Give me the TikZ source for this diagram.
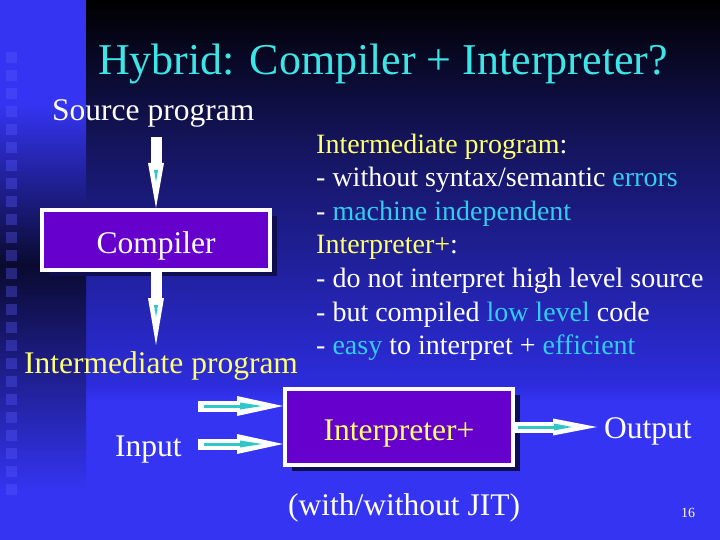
\documentclass[tikz,border=0pt]{standalone}
\usepackage{fontspec}
\setmainfont{Liberation Serif}
\usetikzlibrary{arrows.meta,shadows}
\definecolor{bgblue}{HTML}{3434F2}
\definecolor{dark1}{HTML}{14145A}
\definecolor{mid1}{HTML}{2C2CDC}
\definecolor{vdark}{HTML}{0A0A30}
\definecolor{boxpurple}{HTML}{6600CC}
\definecolor{shadowc}{HTML}{0E0E50}
\definecolor{ttlcyan}{HTML}{3CE6E6}
\definecolor{txtcyan}{HTML}{33CCEE}
\definecolor{txtyellow}{HTML}{FFFF70}
\definecolor{arrowcyan}{HTML}{33C6C6}
\definecolor{sqc}{HTML}{5A5AFF}
\begin{document}
\begin{tikzpicture}[x=1pt,y=-1pt,
  lbl/.style={inner sep=0pt, text=white, font=\fontsize{31.5}{36}\selectfont, anchor=base west},
  body/.style={inner sep=0pt, text=white, font=\fontsize{28}{33}\selectfont, anchor=base west},
  box/.style={draw=white, line width=4pt, fill=boxpurple, minimum width=228pt, inner sep=0pt,
    text height=28pt, text depth=2pt, font=\fontsize{31.5}{36}\selectfont,
    drop shadow={shadow xshift=7pt, shadow yshift=-6pt, fill=shadowc, opacity=1}},
  wshaft/.style={white, line width=11pt},
  cshaft/.style={arrowcyan, line width=3pt}
]
\useasboundingbox (0,0) rectangle (720,540);
% background
\fill[bgblue] (0,0) rectangle (720,540);
\shade[top color=black, bottom color=dark1] (86,0) rectangle (720,140);
\shade[top color=dark1, bottom color=mid1] (86,140) rectangle (720,385);
\shade[top color=mid1, bottom color=bgblue] (86,385) rectangle (720,400);
\shade[top color=bgblue, bottom color=vdark] (0,105) rectangle (86,265);
\shade[top color=vdark, bottom color=bgblue] (0,265) rectangle (86,490);
\foreach \i in {0,...,24} \fill[sqc, opacity=0.35] (6,{52+\i*18}) rectangle ++(11,11);

% title
\node[inner sep=0pt, anchor=base west, text=ttlcyan, font=\fontsize{44}{50}\selectfont] (title) at (98,75) {Hybrid: Compiler + Interpreter?};

% left column
\node[lbl] (src) at (52,121) {Source program};
\node[box, minimum height=60pt, text=white] (comp) at (156,240) {Compiler};
\node[lbl, text=txtyellow] (ip) at (24,373) {Intermediate program};
\node[lbl] (inp) at (115,456) {Input};
\node[box, minimum height=76pt, text=txtyellow] (interp) at (399,427) {Interpreter+};
\node[lbl] (out) at (604,438) {Output};
\node[lbl] (jit) at (288,515) {(with/without JIT)};
\node[inner sep=0pt, anchor=base, text=white, font=\fontsize{14}{16}\selectfont] (pg) at (688,517) {16};

% right text
\node[body] (l1) at (316,153.5) {\textcolor{txtyellow}{Intermediate program}:};
\node[body] (l2) at (316,187) {- without syntax/semantic \textcolor{txtcyan}{errors}};
\node[body] (l3) at (316,220.5) {- \textcolor{txtcyan}{machine independent}};
\node[body] (l4) at (316,254) {\textcolor{txtyellow}{Interpreter+}:};
\node[body] (l5) at (316,287.5) {- do not interpret high level source};
\node[body] (l6) at (316,321) {- but compiled \textcolor{txtcyan}{low level} code};
\node[body] (l7) at (316,354) {- \textcolor{txtcyan}{easy} to interpret + \textcolor{txtcyan}{efficient}};

% connector coordinates
\coordinate (s1) at (156,137);
\coordinate (s2e) at (156,345);
\coordinate (in1) at (198,406);
\coordinate (in2) at (198,444);
\coordinate (o1) at (597,427);

% vertical arrows
\draw[wshaft, -{Triangle[length=45pt,width=16pt,line width=0pt]}] (s1) -- (comp.north);
\draw[arrowcyan, line width=0.5pt, shorten <=33pt, shorten >=26pt, -{Triangle[length=12pt,width=4pt,line width=0pt]}] (s1) -- (comp.north);
\draw[wshaft, -{Triangle[length=47pt,width=16pt,line width=0pt]}] (comp.south) -- (s2e);
\draw[arrowcyan, line width=0.5pt, shorten <=33pt, shorten >=28pt, -{Triangle[length=12pt,width=4pt,line width=0pt]}] (comp.south) -- (s2e);

% horizontal arrows
\foreach \c in {in1,in2}{
  \draw[wshaft, -{Triangle[length=46pt,width=20pt,line width=0pt]}] (\c) -- (interp.west |- \c);
  \draw[cshaft, shorten <=6pt, shorten >=21pt, -{Triangle[length=22pt,width=7pt,line width=0pt]}] (\c) -- (interp.west |- \c);
}
\draw[wshaft, -{Triangle[length=44pt,width=17pt,line width=0pt]}] (interp.east) -- (o1);
\draw[cshaft, shorten <=3pt, shorten >=25pt, -{Triangle[length=18pt,width=7pt,line width=0pt]}] (interp.east) -- (o1);
\end{tikzpicture}
\end{document}
